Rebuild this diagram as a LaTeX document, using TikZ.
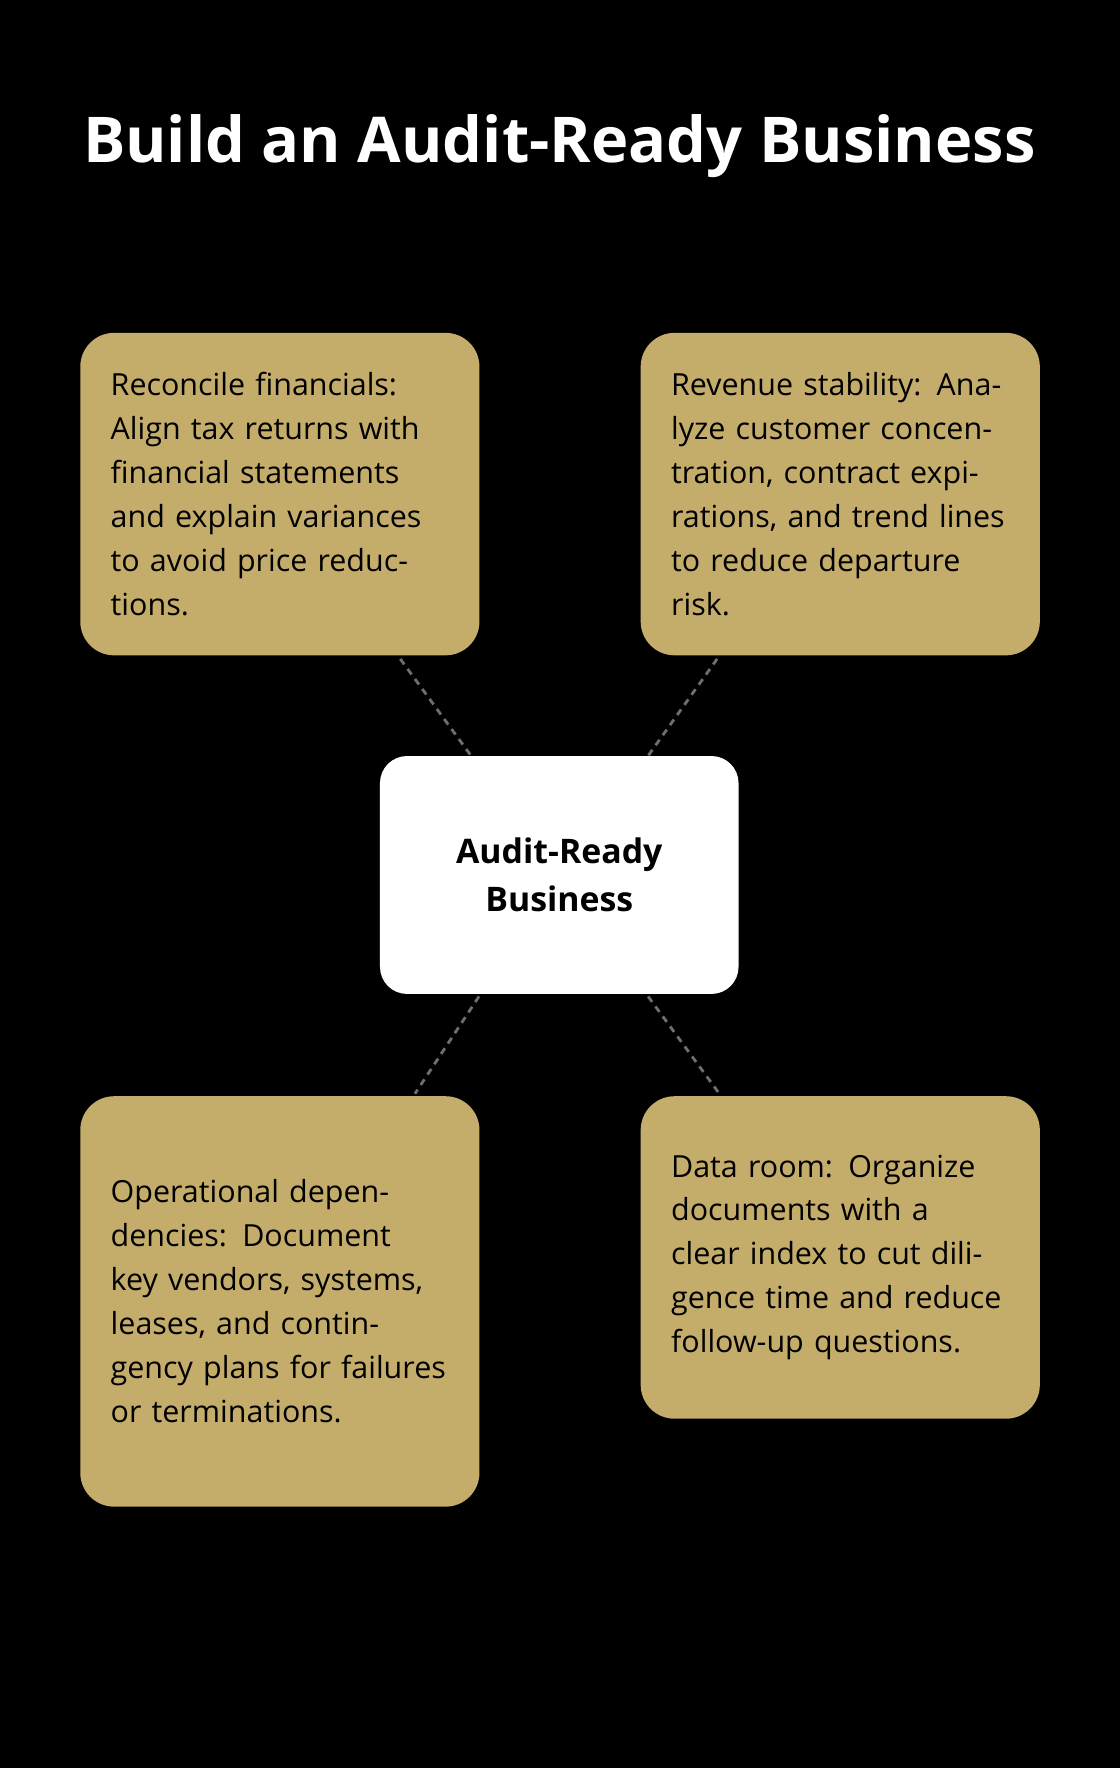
\documentclass[tikz,border=0pt]{standalone}
\usepackage{fontspec}
\setmainfont{Open Sans}
\usetikzlibrary{positioning, calc}
\definecolor{gold}{HTML}{C4AC6B}
\definecolor{linkgray}{HTML}{6E6E6E}
\tikzset{
  card/.style={fill=gold, rounded corners=30pt, text width=300pt, inner sep=27pt, align=left,
    font=\fontsize{27}{39}\selectfont, anchor=north west, minimum width=354pt},
  hub/.style={fill=white, rounded corners=24pt, minimum width=318pt, minimum height=211pt,
    align=center, font=\fontsize{30}{43}\selectfont\bfseries},
  link/.style={linkgray, line width=2.5pt, dash pattern=on 6pt off 5pt}
}
\begin{document}
\begin{tikzpicture}[x=1pt, y=-1pt]
  % Background
  \fill[black] (0,0) rectangle (993,1568);
  \useasboundingbox (0,0) rectangle (993,1568);
  \node[white, font=\fontsize{56}{60}\selectfont\bfseries] (title) at (496,130) {Build an Audit-Ready Business};

  % Nodes
  \node[card, minimum height=286pt] (recon) at (71,295) {Reconcile financials: Align tax returns with financial statements and explain variances to avoid price reductions.};
  \node[card, minimum height=286pt] (revenue) at (568,295) {Revenue stability: Analyze customer concentration, contract expirations, and trend lines to reduce departure risk.};
  \node[card, minimum height=364pt] (ops) at (71,972) {Operational dependencies: Document key vendors, systems, leases, and contingency plans for failures or terminations.};
  \node[card, minimum height=286pt] (data) at (568,972) {Data room: Organize documents with a clear index to cut diligence time and reduce follow-up questions.};
  \node[hub] (hub) at (496,776) {Audit-Ready\\Business};

  % Links
  \draw[link] ($(recon.south west)+(284,3)$) -- ($(hub.north west)+(81,0)$);
  \draw[link] ($(revenue.south west)+(68,3)$) -- ($(hub.north west)+(238,0)$);
  \draw[link] ($(hub.south west)+(88,2)$) -- ($(ops.north west)+(297,-2)$);
  \draw[link] ($(hub.south west)+(238,2)$) -- ($(data.north west)+(70,-2)$);
\end{tikzpicture}
\end{document}
